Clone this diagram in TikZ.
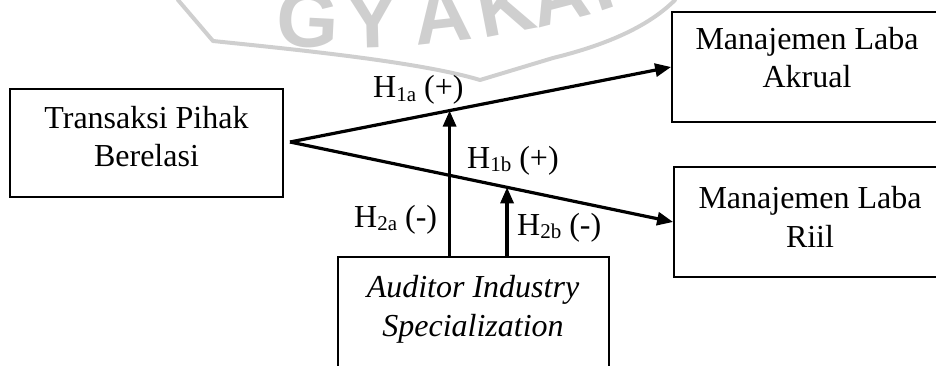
\documentclass[tikz,border=0pt]{standalone}
\usepackage{fontspec}
\setmainfont{Liberation Serif}
\newfontfamily\markfont{Liberation Sans}
\usetikzlibrary{arrows.meta,calc}
% lowered, smaller index for the hypothesis labels
\newcommand\hsub[1]{\raisebox{-3.5pt}{\fontsize{21}{21}\selectfont #1}}
\tikzset{
  box/.style={draw, line width=1.8pt, fill=white, inner sep=0pt},
  boxtext/.style={align=center, inner sep=0pt, anchor=base, font=\fontsize{32}{38.5}\selectfont},
  hyp/.style={inner sep=0pt, anchor=base west, font=\fontsize{32}{38}\selectfont},
  link/.style={line width=3.2pt, -{Triangle[length=16pt,width=13pt]}},
  markletter/.style={inner sep=0pt, anchor=base, text=black!19, font=\markfont\bfseries\fontsize{80}{80}\selectfont},
  markline/.style={draw=black!19, line width=4pt, line cap=round, line join=round},
}
\begin{document}
\begin{tikzpicture}[x=1pt, y=-1pt]
\useasboundingbox (0,0) rectangle (936,366);

% faint background seal
\draw[markline] (178,0) -- (213,41) .. controls (300,50) and (420,62) .. (480,80)
  -- (553,58) .. controls (610,44) and (650,25) .. (675,0);
\node[markletter, rotate=-2.9] (mG) at (307,46.9) {G};
\node[markletter, rotate=1.6] (mY) at (373,47.7) {Y};
\node[markletter, rotate=6.4] (mA1) at (445,42.7) {A};
\node[markletter, rotate=10.9] (mK) at (511,32.6) {K};
\node[markletter, rotate=14.5] (mA2) at (565,20.9) {A};
\node[markletter, rotate=18.7] (mR) at (625,3.0) {R};

% boxes
\node[box, minimum width=273pt, minimum height=108pt] (tp) at (146.5,143) {};
\node[box, minimum width=273pt, minimum height=110pt] (acc) at (808.5,67) {};
\node[box, minimum width=273pt, minimum height=110pt] (riil) at (810.5,222) {};
\node[box, minimum width=271pt, minimum height=126pt] (asis) at (473.5,320) {};

% box texts (anchored on the baseline of their last line)
\node[boxtext] (tp-t) at (146.5,167) {Transaksi Pihak\\Berelasi};
\node[boxtext] (acc-t) at (807,88) {Manajemen Laba\\Akrual};
\node[boxtext] (riil-t) at (810,247) {Manajemen Laba\\Riil};
\node[boxtext, font=\fontsize{32}{38.5}\selectfont\itshape] (asis-t) at (473,336) {Auditor Industry\\Specialization};

% paths
\coordinate (o) at (290,142);
\draw[link] (o) -- (acc.west);
\draw[link] (o) -- (riil.west);
\coordinate (m1) at ($(o)!0.4188!(acc.west)$);
\coordinate (m2) at ($(o)!0.5666!(riil.west)$);
\draw[link] (asis.north -| m1) -- (m1);
\draw[link] (asis.north -| m2) -- (m2);

% hypothesis labels
\node[hyp] (h1a) at (373,98) {H\hsub{1a} (+)};
\node[hyp] (h1b) at (467,168) {H\hsub{1b} (+)};
\node[hyp] (h2a) at (354,227) {H\hsub{2a} (-)};
\node[hyp] (h2b) at (517,235) {H\hsub{2b} (-)};
\end{tikzpicture}
\end{document}
